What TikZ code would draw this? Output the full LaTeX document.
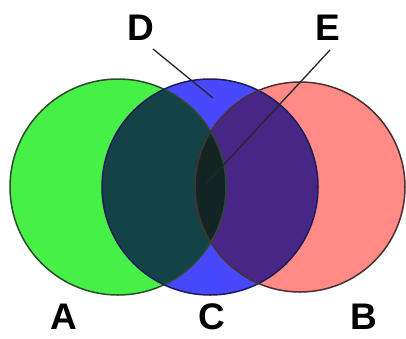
\documentclass[tikz,border=0pt]{standalone}
\usepackage{fontspec}
\setmainfont{Liberation Sans}
\definecolor{gA}{HTML}{46F046}
\definecolor{bC}{HTML}{4848FF}
\definecolor{pB}{HTML}{FF8A86}
\definecolor{eA}{HTML}{2C4A2C}
\definecolor{eC}{HTML}{1C1C5A}
\definecolor{eB}{HTML}{4A3030}
\tikzset{
  lbl/.style={font=\fontsize{37}{37}\selectfont\bfseries, inner sep=0pt, anchor=center},
  leader/.style={draw=black!85, line width=1.3pt},
  rim/.style={line width=1.5pt}
}
\begin{document}
\begin{tikzpicture}[x=1pt,y=-1pt]
\useasboundingbox (0,0) rectangle (406,338);
\fill[white] (0,0) rectangle (406,338);
\coordinate (cA) at (118,187);
\coordinate (cC) at (210,187);
\coordinate (cB) at (300,187);
\begin{scope}[blend group=multiply]
  \fill[gA] (cA) circle[radius=108];
  \fill[bC] (cC) circle[radius=108];
  \fill[pB] (cB) circle[radius=105];
\end{scope}
\draw[rim, eA] (cA) circle[radius=108];
\draw[rim, eC] (cC) circle[radius=108];
\draw[rim, eB] (cB) circle[radius=105];
\node[lbl] (D) at (141,28) {D};
\node[lbl] (E) at (328,28) {E};
\node[lbl] (A) at (64,316.5) {A};
\node[lbl] (C) at (212,316.5) {C};
\node[lbl] (B) at (364,316.5) {B};
\coordinate (d1) at (153,49);
\coordinate (d2) at (213,98);
\coordinate (e1) at (330,50);
\coordinate (e2) at (205,185);
\draw[leader] (d1) -- (d2);
\draw[leader] (e1) -- (e2);
\end{tikzpicture}
\end{document}
